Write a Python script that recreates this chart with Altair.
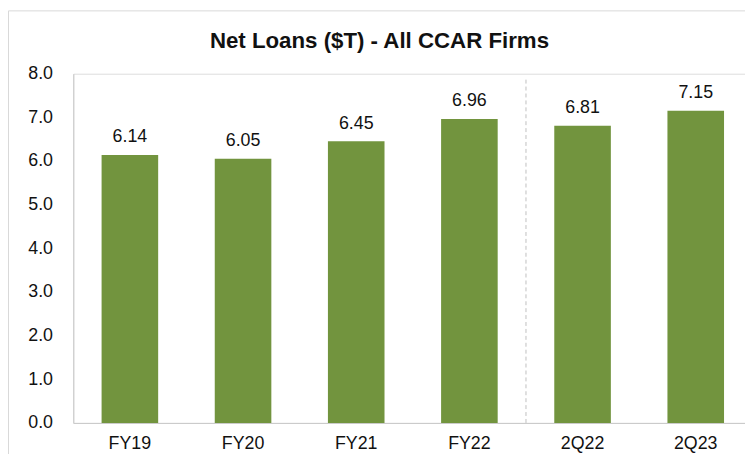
import altair as alt
import pandas as pd

title_text = "Net Loans ($T) - All CCAR Firms"
categories = ["FY19", "FY20", "FY21", "FY22", "2Q22", "2Q23"]
values = [6.14, 6.05, 6.45, 6.96, 6.81, 7.15]
labels = ["6.14", "6.05", "6.45", "6.96", "6.81", "7.15"]
y_ticks = [0, 1, 2, 3, 4, 5, 6, 7, 8]

df = pd.DataFrame({"cat": categories, "val": values, "lab": labels})

FONT = "Liberation Sans, Arial, sans-serif"
GREEN = "#72943E"
N = len(categories)
RANGE_MAX = 686.4
STEP = RANGE_MAX / N
W, H = 679, 353

xscale = alt.Scale(domain=categories, range=[0, RANGE_MAX], paddingInner=0.5, paddingOuter=0.25)
yscale = alt.Scale(domain=[0, 8], nice=False)

base = alt.Chart(df)

bars = base.mark_bar(color=GREEN).encode(
    x=alt.X("cat:N", sort=categories, scale=xscale,
            axis=alt.Axis(title=None, labelAngle=0, ticks=False, domainColor="#c8c8c8",
                          labelFontSize=18, labelFont=FONT, labelColor="#111111",
                          labelPadding=12)),
    y=alt.Y("val:Q", scale=yscale,
            axis=alt.Axis(title=None, values=y_ticks, format=".1f", grid=False, ticks=False,
                          domainColor="#c8c8c8", labelFontSize=18, labelFont=FONT,
                          labelColor="#111111", labelPadding=21)),
)

text = base.mark_text(baseline="alphabetic", dy=-13, fontSize=18, font=FONT, color="#111111").encode(
    x=alt.X("cat:N", sort=categories, scale=xscale),
    y=alt.Y("val:Q", scale=yscale),
    text="lab:N",
)

one = pd.DataFrame({"t": [title_text]})

divider = alt.Chart(one).mark_rule(
    color="#c0c0c0", strokeDash=[4, 3], strokeWidth=1
).encode(x=alt.value(STEP * 4), y=alt.value(6), y2=alt.value(H))

frame = alt.Chart(one).mark_rect(
    fill=None, stroke="#d9d9d9", strokeWidth=1
).encode(x=alt.value(-65.5), x2=alt.value(686), y=alt.value(-63.5), y2=alt.value(400))

title = alt.Chart(one).mark_text(
    font=FONT, fontSize=22.5, fontWeight="bold", color="#111111",
    align="center", baseline="alphabetic"
).encode(x=alt.value(309.5), y=alt.value(-25.5), text="t:N")

chart = alt.layer(frame, bars, text, divider, title).properties(
    width=W, height=H,
    autosize=alt.AutoSizeParams(type="none"),
    padding={"left": 66, "top": 64, "right": 0, "bottom": 29},
).configure_view(stroke=None).configure(background="white")

chart.save("out.html", embed_options={"renderer": "svg", "actions": False})
